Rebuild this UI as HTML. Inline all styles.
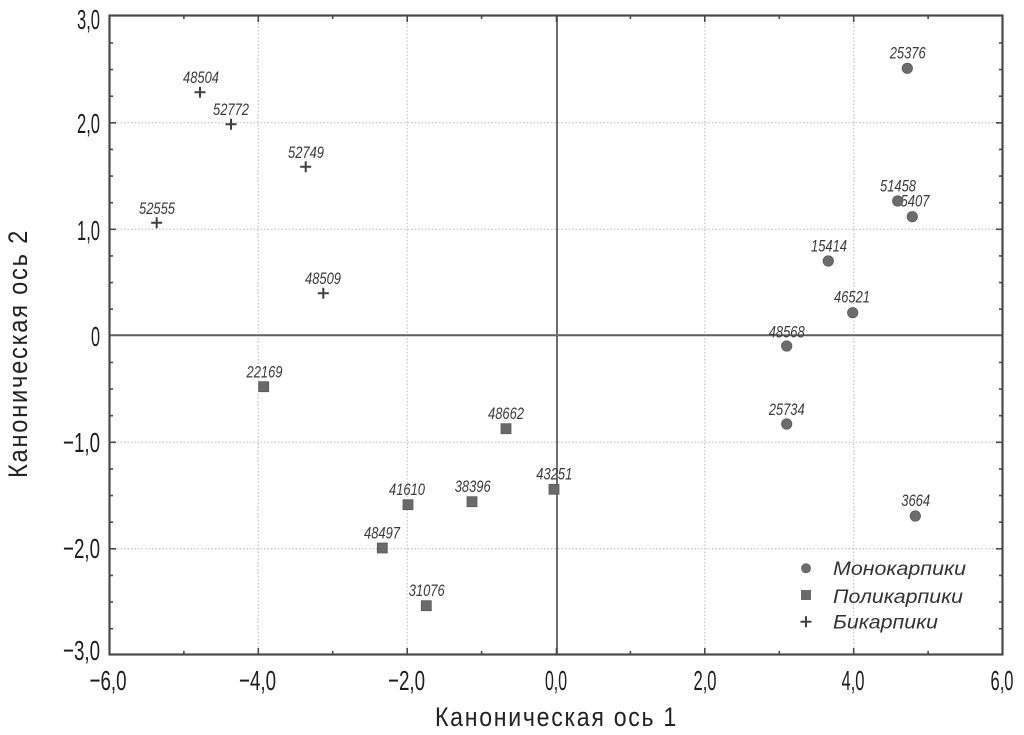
<!DOCTYPE html>
<html>
<head>
<meta charset="utf-8">
<style>
html,body{margin:0;padding:0;background:#fff;}
svg{display:block;}
.tk{font-family:"Liberation Sans Narrow","Liberation Sans",sans-serif;font-size:28px;fill:#1c1c1c;}
.ttl{font-family:"Liberation Sans Narrow","Liberation Sans","Noto Sans CJK SC",sans-serif;font-size:27px;fill:#222;letter-spacing:2px;}
.lb{font-family:"Liberation Sans",sans-serif;font-style:italic;font-size:16.5px;fill:#3a3a3a;}
.lg{font-family:"Liberation Sans","Noto Sans CJK SC",sans-serif;font-style:italic;font-size:19px;fill:#333;}
</style>
</head>
<body>
<svg width="1024" height="735" viewBox="0 0 1024 735" xmlns="http://www.w3.org/2000/svg">
<rect width="1024" height="735" fill="#fff"/>

<!-- grid -->
<g stroke="#b8b8b8" stroke-width="1" stroke-dasharray="1.5,2" fill="none">
  <line x1="258.3" y1="16" x2="258.3" y2="654"/>
  <line x1="407.2" y1="16" x2="407.2" y2="654"/>
  <line x1="704.8" y1="16" x2="704.8" y2="654"/>
  <line x1="853.7" y1="16" x2="853.7" y2="654"/>
  <line x1="110" y1="122.8" x2="1002" y2="122.8"/>
  <line x1="110" y1="229.3" x2="1002" y2="229.3"/>
  <line x1="110" y1="442.3" x2="1002" y2="442.3"/>
  <line x1="110" y1="548.8" x2="1002" y2="548.8"/>
</g>

<!-- zero lines -->
<line x1="110" y1="335.3" x2="1002" y2="335.3" stroke="#5e5e5e" stroke-width="2"/>
<line x1="557" y1="16" x2="557" y2="654" stroke="#6e6e6e" stroke-width="2"/>

<!-- border -->
<rect x="109.5" y="15.5" width="893" height="639" fill="none" stroke="#4a4a4a" stroke-width="2.2"/>

<!-- ticks -->
<g stroke="#4a4a4a" stroke-width="1.6" fill="none">
  <path d="M258.3 654v-6M407.2 654v-6M556.5 654v-6M704.8 654v-6M853.7 654v-6
           M258.3 16v6M407.2 16v6M556.5 16v6M704.8 16v6M853.7 16v6"/>
  <path d="M183.9 654v-3M332.7 654v-3M481.6 654v-3M630.4 654v-3M779.3 654v-3M928.1 654v-3
           M183.9 16v3M332.7 16v3M481.6 16v3M630.4 16v3M779.3 16v3M928.1 16v3"/>
  <path d="M110 122.8h6M110 229.3h6M110 442.3h6M110 548.8h6
           M1002 122.8h-6M1002 229.3h-6M1002 442.3h-6M1002 548.8h-6"/>
  <path d="M110 42.9h3M110 69.55h3M110 96.2h3M110 149.4h3M110 176.05h3M110 202.7h3M110 255.9h3M110 282.55h3M110 309.2h3M110 362.4h3M110 389.05h3M110 415.7h3M110 468.9h3M110 495.55h3M110 522.2h3M110 575.4h3M110 602.05h3M110 628.7h3
           M1002 42.9h-3M1002 69.55h-3M1002 96.2h-3M1002 149.4h-3M1002 176.05h-3M1002 202.7h-3M1002 255.9h-3M1002 282.55h-3M1002 309.2h-3M1002 362.4h-3M1002 389.05h-3M1002 415.7h-3M1002 468.9h-3M1002 495.55h-3M1002 522.2h-3M1002 575.4h-3M1002 602.05h-3M1002 628.7h-3"/>
</g>

<!-- y tick labels -->
<g class="tk" text-anchor="end">
  <text x="100" y="29" textLength="23" lengthAdjust="spacingAndGlyphs">3,0</text>
  <text x="100" y="133" textLength="23" lengthAdjust="spacingAndGlyphs">2,0</text>
  <text x="100" y="240" textLength="23" lengthAdjust="spacingAndGlyphs">1,0</text>
  <text x="100" y="346" textLength="9" lengthAdjust="spacingAndGlyphs">0</text>
  <text x="100" y="452" textLength="37" lengthAdjust="spacingAndGlyphs">−1,0</text>
  <text x="100" y="558" textLength="37" lengthAdjust="spacingAndGlyphs">−2,0</text>
  <text x="100" y="660" textLength="37" lengthAdjust="spacingAndGlyphs">−3,0</text>
</g>

<!-- x tick labels -->
<g class="tk" text-anchor="middle">
  <text x="108" y="690" textLength="37" lengthAdjust="spacingAndGlyphs">−6,0</text>
  <text x="257.5" y="690" textLength="37" lengthAdjust="spacingAndGlyphs">−4,0</text>
  <text x="406.5" y="690" textLength="37" lengthAdjust="spacingAndGlyphs">−2,0</text>
  <text x="556" y="690" textLength="22" lengthAdjust="spacingAndGlyphs">0,0</text>
  <text x="705" y="690" textLength="23" lengthAdjust="spacingAndGlyphs">2,0</text>
  <text x="853" y="690" textLength="23" lengthAdjust="spacingAndGlyphs">4,0</text>
  <text x="1002" y="690" textLength="23" lengthAdjust="spacingAndGlyphs">6,0</text>
</g>

<!-- axis titles -->
<text class="ttl" x="435" y="726" textLength="243" lengthAdjust="spacingAndGlyphs">Каноническая ось 1</text>
<text class="ttl" transform="translate(27,478) rotate(-90)" x="0" y="0" textLength="249" lengthAdjust="spacingAndGlyphs">Каноническая ось 2</text>

<!-- point labels -->
<g class="lb" text-anchor="middle">
  <text x="201" y="83" textLength="36" lengthAdjust="spacingAndGlyphs">48504</text>
  <text x="231" y="115" textLength="36" lengthAdjust="spacingAndGlyphs">52772</text>
  <text x="306" y="158" textLength="36" lengthAdjust="spacingAndGlyphs">52749</text>
  <text x="157" y="214" textLength="36" lengthAdjust="spacingAndGlyphs">52555</text>
  <text x="323" y="284" textLength="36" lengthAdjust="spacingAndGlyphs">48509</text>

  <text x="264.5" y="377.5" textLength="36" lengthAdjust="spacingAndGlyphs">22169</text>
  <text x="506" y="419" textLength="36" lengthAdjust="spacingAndGlyphs">48662</text>
  <text x="554.3" y="479.5" textLength="36" lengthAdjust="spacingAndGlyphs">43251</text>
  <text x="472.7" y="492" textLength="36" lengthAdjust="spacingAndGlyphs">38396</text>
  <text x="407" y="495" textLength="36" lengthAdjust="spacingAndGlyphs">41610</text>
  <text x="382" y="538.3" textLength="36" lengthAdjust="spacingAndGlyphs">48497</text>
  <text x="426.7" y="596" textLength="36" lengthAdjust="spacingAndGlyphs">31076</text>

  <text x="907.7" y="58.3" textLength="36" lengthAdjust="spacingAndGlyphs">25376</text>
  <text x="898" y="191.7" textLength="36" lengthAdjust="spacingAndGlyphs">51458</text>
  <text x="915" y="206.7" textLength="29" lengthAdjust="spacingAndGlyphs">5407</text>
  <text x="829" y="251.7" textLength="36" lengthAdjust="spacingAndGlyphs">15414</text>
  <text x="852" y="302.7" textLength="36" lengthAdjust="spacingAndGlyphs">46521</text>
  <text x="786.7" y="337.3" textLength="36" lengthAdjust="spacingAndGlyphs">48568</text>
  <text x="786.7" y="415" textLength="36" lengthAdjust="spacingAndGlyphs">25734</text>
  <text x="915.7" y="506" textLength="29" lengthAdjust="spacingAndGlyphs">3664</text>
</g>

<!-- plus markers -->
<g stroke="#3f3f3f" stroke-width="2" fill="none">
  <path d="M194.5 92.3h11M200 86.8v11"/>
  <path d="M225.5 124.3h11M231 118.8v11"/>
  <path d="M300.2 166.7h11M305.7 161.2v11"/>
  <path d="M151.2 222.7h11M156.7 217.2v11"/>
  <path d="M317.8 293.3h11M323.3 287.8v11"/>
</g>

<!-- square markers -->
<g fill="#6a6a6a" stroke="#5a5a5a" stroke-width="0.8">
  <rect x="258.7" y="381.7" width="10" height="10"/>
  <rect x="501" y="423.7" width="10" height="10"/>
  <rect x="549" y="484.3" width="10" height="10"/>
  <rect x="467" y="496.7" width="10" height="10"/>
  <rect x="403" y="499.7" width="10" height="10"/>
  <rect x="377.3" y="543" width="10" height="10"/>
  <rect x="421.3" y="600.7" width="10" height="10"/>
</g>

<!-- circle markers -->
<g fill="#6c6c6c" stroke="#5c5c5c" stroke-width="0.8">
  <circle cx="907.3" cy="68.3" r="5.2"/>
  <circle cx="897.7" cy="201" r="5.2"/>
  <circle cx="912.3" cy="216.7" r="5.2"/>
  <circle cx="828.3" cy="261" r="5.2"/>
  <circle cx="852.7" cy="312.7" r="5.2"/>
  <circle cx="786.7" cy="346" r="5.2"/>
  <circle cx="786.7" cy="424" r="5.2"/>
  <circle cx="915.3" cy="516" r="5.2"/>
</g>

<!-- legend -->
<circle cx="806" cy="568.3" r="5" fill="#6c6c6c"/>
<rect x="801" y="590" width="10" height="10" fill="#6a6a6a"/>
<path d="M800.5 621.7h11M806 616.2v11" stroke="#3f3f3f" stroke-width="2"/>
<text class="lg" x="833" y="575" textLength="133" lengthAdjust="spacingAndGlyphs">Монокарпики</text>
<text class="lg" x="833" y="603" textLength="130" lengthAdjust="spacingAndGlyphs">Поликарпики</text>
<text class="lg" x="833" y="628.5" textLength="105" lengthAdjust="spacingAndGlyphs">Бикарпики</text>
</svg>
</body>
</html>
